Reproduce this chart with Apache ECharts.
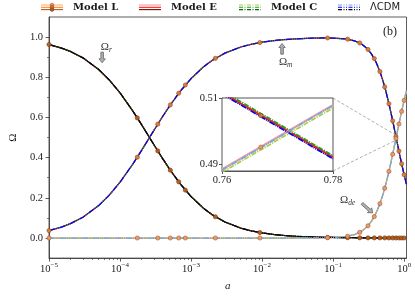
<!DOCTYPE html>
<html><head><meta charset="utf-8">
<script src="https://cdn.jsdelivr.net/npm/echarts@6/dist/echarts.min.js"></script>
<style>html,body{margin:0;padding:0;background:#fff}#c{width:415px;height:297px}</style>
</head><body><div id="c"></div>
<script>
// ---------- data ----------
const aGrid = [1e-5, 1.5e-5, 2e-5, 3e-5, 5e-5, 7e-5, 1e-4, 1.5e-4, 2e-4, 3e-4, 4e-4, 5e-4, 7e-4, 1e-3, 1.5e-3, 2e-3, 3e-3, 5e-3, 7e-3, 1e-2, 1.5e-2, 2e-2, 3e-2, 5e-2, 7e-2, 0.1, 0.15, 0.2, 0.25, 0.3, 0.35, 0.4, 0.45, 0.5, 0.55, 0.6, 0.65, 0.7, 0.76, 0.78, 0.8, 0.85, 0.9, 0.95, 1.0, 1.05, 1.08];
const omegaR = [0.963, 0.9455, 0.9286, 0.8966, 0.8387, 0.7879, 0.7222, 0.6341, 0.5652, 0.4643, 0.3939, 0.3421, 0.2708, 0.2063, 0.1477, 0.1150, 0.0798, 0.0494, 0.0358, 0.0253, 0.0170, 0.0128, 0.0086, 0.0052, 0.0037, 0.0026, 0.0017, 0.0013, 0.0010, 0.0008, 0.0007, 0.0006, 0.0005, 0.0004, 0.0003, 0.0003, 0.0003, 0.0002, 0.0002, 0.0002, 0.0002, 0.0001, 0.0001, 0.0001, 0.0001, 0.0001, 0.0001];
const omegaM = [0.0370, 0.0545, 0.0714, 0.1034, 0.1613, 0.2121, 0.2778, 0.3659, 0.4348, 0.5357, 0.6061, 0.6579, 0.7292, 0.7937, 0.8523, 0.8850, 0.9202, 0.9506, 0.9642, 0.9747, 0.9830, 0.9872, 0.9913, 0.9946, 0.9956, 0.9952, 0.9910, 0.9816, 0.9662, 0.9438, 0.9141, 0.8773, 0.8342, 0.7860, 0.7341, 0.6802, 0.6259, 0.5727, 0.5115, 0.4921, 0.4731, 0.4281, 0.3868, 0.3491, 0.3150, 0.2843, 0.2674];
const omegaDE = [0, 0, 0, 0, 0, 0, 0, 0, 0, 0, 0, 0, 0, 0, 0, 0, 0, 0, 0, 0, 0, 0, 0.0001, 0.0003, 0.0007, 0.0022, 0.0073, 0.0171, 0.0328, 0.0554, 0.0852, 0.1221, 0.1653, 0.2136, 0.2656, 0.3195, 0.3738, 0.4271, 0.4883, 0.5078, 0.5267, 0.5717, 0.6131, 0.6508, 0.6849, 0.7157, 0.7325];

// Model L markers
const markA  = [1e-5, 1.75e-4, 3.4e-4, 5.1e-4, 6.7e-4, 8.3e-4, 2.2e-3, 9.3e-3, 0.0836, 0.160, 0.237, 0.310, 0.380, 0.456, 0.533, 0.611, 0.690, 0.767, 0.845, 0.922, 1.0];
const markR  = [0.963, 0.5977, 0.4333, 0.3377, 0.2796, 0.2385, 0.1057, 0.0272, 0.0031, 0.0016, 0.0011, 0.0008, 0.0006, 0.0005, 0.0004, 0.0003, 0.0002, 0.0002, 0.0001, 0.0001, 0.0001];
const markM  = [0.0370, 0.4023, 0.5667, 0.6623, 0.7204, 0.7615, 0.8943, 0.9728, 0.9956, 0.9896, 0.9708, 0.9384, 0.8929, 0.8287, 0.7520, 0.6683, 0.5832, 0.5047, 0.4325, 0.3697, 0.3150];
const markDE = [0, 0, 0, 0, 0, 0, 0, 0, 0.0013, 0.0088, 0.0281, 0.0608, 0.1065, 0.1709, 0.2476, 0.3315, 0.4166, 0.4952, 0.5674, 0.6302, 0.6849];

// inset (zoom on 0.76 <= a <= 0.78)
const insetA = [0.76, 0.78];
const insetM_L = [0.5114, 0.4919];
const insetM_E = [0.5117, 0.4922];
const insetM_C = [0.5122, 0.4926];
const insetM_LCDM = [0.5112, 0.4917];
const insetDE_L = [0.4884, 0.5078];
const insetDE_E = [0.4886, 0.5080];
const insetDE_C = [0.4876, 0.5070];
const insetDE_LCDM = [0.4883, 0.5077];
const insetMarkA = [0.767];
const insetMarkM = [0.5047];
const insetMarkDE = [0.4952];

// ticks
const xMajorTicks = [1e-5, 1e-4, 1e-3, 1e-2, 1e-1, 1];
const xMinorTicks = [2e-5,3e-5,4e-5,5e-5,6e-5,7e-5,8e-5,9e-5, 2e-4,3e-4,4e-4,5e-4,6e-4,7e-4,8e-4,9e-4, 2e-3,3e-3,4e-3,5e-3,6e-3,7e-3,8e-3,9e-3, 2e-2,3e-2,4e-2,5e-2,6e-2,7e-2,8e-2,9e-2, 0.2,0.3,0.4,0.5,0.6,0.7,0.8,0.9];
const yMajorTicks = [0, 0.2, 0.4, 0.6, 0.8, 1.0];
const yMinorTicks = [0.1, 0.3, 0.5, 0.7, 0.9];
const insetXTicks = [0.76, 0.78];
const insetYTicks = [0.49, 0.51];

// ---------- styling ----------
const SERIF = 'Liberation Serif';
const TXT = '#1a1a1a';
const AX = '#333';
const models = [
  {name: 'Model L', dash: 'solid', svgDash: '', c: {r: '#b0581c', m: '#ff8a1a', de: '#ffb070'}},
  {name: 'Model E', dash: 'solid', svgDash: '', c: {r: '#8b0000', m: '#ff1a1a', de: '#ff9a9a'}},
  {name: 'Model C', dash: [5, 1.2, 1.2, 1.2], svgDash: '4,1.5,1,1.5', c: {r: '#006400', m: '#1fa01f', de: '#a6cf3c'}},
  {name: 'ΛCDM', dash: [6, 1, 1, 1, 1, 1], svgDash: '4,1.5,1,1.5,1,1.5', c: {r: '#000028', m: '#0000ff', de: '#6ea6f0'}}
];
const markerStyle = {
  r: {color: '#b8601f', borderColor: '#6b2f0a'},
  m: {color: '#e07a3a', borderColor: '#8b4513'},
  de: {color: '#eb9a66', borderColor: '#a0522d'}
};
const zip = (xs, ys) => xs.map((x, i) => [x, ys[i]]);

function legendIcon(mod, withMarker) {
  const ys = [4, 6.3, 8.6];
  const cs = [mod.c.de, mod.c.m, mod.c.r];
  let s = '<svg xmlns="http://www.w3.org/2000/svg" width="27" height="12" viewBox="0 0 27 12">';
  ys.forEach((y, i) => {
    s += '<line x1="0" y1="' + y + '" x2="22" y2="' + y + '" stroke="' + cs[i] + '" stroke-width="1.1"' +
      (mod.svgDash ? ' stroke-dasharray="' + mod.svgDash + '"' : '') + '/>';
  });
  if (withMarker) {
    const ms = [markerStyle.de, markerStyle.m, markerStyle.r];
    ys.forEach((y, i) => {
      s += '<circle cx="11" cy="' + y + '" r="1.8" fill="' + ms[i].color + '" stroke="' + ms[i].borderColor + '" stroke-width="0.6"/>';
    });
  }
  s += '</svg>';
  return 'image://data:image/svg+xml;charset=utf-8,' + encodeURIComponent(s);
}

const series = [];
models.forEach(mod => {
  [['r', omegaR], ['m', omegaM], ['de', omegaDE]].forEach(([k, arr]) => {
    series.push({
      type: 'line', name: mod.name, xAxisIndex: 0, yAxisIndex: 0,
      data: zip(aGrid, arr), symbol: 'none', smooth: false,
      lineStyle: {color: mod.c[k], width: 1.25, type: mod.dash, join: 'round'}, itemStyle: {color: mod.c[k]},
      z: 2
    });
  });
});
[['r', markR], ['m', markM], ['de', markDE]].forEach(([k, arr]) => {
  series.push({
    type: 'scatter', name: 'Model L', xAxisIndex: 0, yAxisIndex: 0,
    data: zip(markA, arr), symbol: 'circle', symbolSize: 4.2,
    itemStyle: {color: markerStyle[k].color, borderColor: markerStyle[k].borderColor, borderWidth: 0.6, opacity: 0.95},
    z: 4
  });
});
// inset series
const insetSets = {
  'Model L': [insetM_L, insetDE_L], 'Model E': [insetM_E, insetDE_E],
  'Model C': [insetM_C, insetDE_C], 'ΛCDM': [insetM_LCDM, insetDE_LCDM]
};
models.forEach(mod => {
  const [mArr, dArr] = insetSets[mod.name];
  [['m', mArr], ['de', dArr]].forEach(([k, arr]) => {
    series.push({
      type: 'line', name: mod.name, xAxisIndex: 2, yAxisIndex: 2,
      data: zip(insetA, arr), symbol: 'none',
      lineStyle: {color: mod.c[k], width: 1.7, type: mod.dash}, z: 6
    });
  });
});
[['m', insetMarkM], ['de', insetMarkDE]].forEach(([k, arr]) => {
  series.push({
    type: 'scatter', name: 'Model L', xAxisIndex: 2, yAxisIndex: 2,
    data: zip(insetMarkA, arr), symbolSize: 4.2,
    itemStyle: {color: markerStyle[k].color, borderColor: markerStyle[k].borderColor, borderWidth: 0.6, opacity: 0.9}, z: 7
  });
});

const legendLefts = [41, 139, 239, 338];
const legends = models.map((mod, i) => ({
  data: [{name: mod.name, icon: legendIcon(mod, i === 0)}],
  left: legendLefts[i], top: 1, padding: 0, itemWidth: 27, itemHeight: 12, selectedMode: false,
  textStyle: i === 3 ? {fontFamily: 'DejaVu Sans', fontSize: 10, color: TXT}
                     : {fontFamily: 'DejaVu Serif', fontWeight: 'bold', fontSize: 10, color: TXT}
}));

const supFmt = v => {
  const e = Math.round(Math.log10(v));
  return '{b|10}{s|' + (e < 0 ? '\u2212' + (-e) : String(e)) + '}';
};

const chart = echarts.init(document.getElementById('c'), null, {renderer: 'canvas'});
chart.setOption({
  animation: false,
  backgroundColor: '#fff',
  legend: legends,
  grid: [
    {left: 37, right: 8.5, top: 17, bottom: 35, show: true, borderColor: AX, borderWidth: 0.8, backgroundColor: 'transparent'},
    {left: 222, top: 98, width: 111, height: 73, show: true, borderColor: '#555', borderWidth: 1, backgroundColor: '#fff', z: 5}
  ],
  xAxis: [
    {type: 'log', logBase: 10, gridIndex: 0, min: 1e-5, max: 1.08, position: 'bottom',
     axisLine: {show: true, onZero: false, lineStyle: {color: AX, width: 0.8}},
     axisTick: {show: true, customValues: xMajorTicks, length: 3.5, lineStyle: {color: AX, width: 0.8}},
     axisLabel: {customValues: xMajorTicks, formatter: supFmt, margin: 5, color: TXT,
       rich: {b: {fontFamily: SERIF, fontSize: 10.5, color: TXT, lineHeight: 12},
              s: {fontFamily: SERIF, fontSize: 7, color: TXT, lineHeight: 7, padding: [0, 0, 7, 0]}}},
     splitLine: {show: false}, minorTick: {show: false},
     name: 'a', nameLocation: 'middle', nameGap: 22,
     nameTextStyle: {fontFamily: SERIF, fontStyle: 'italic', fontSize: 11, color: TXT}},
    {type: 'log', logBase: 10, gridIndex: 0, min: 1e-5, max: 1.08, position: 'bottom',
     axisLine: {show: false, onZero: false},
     axisTick: {show: true, customValues: xMinorTicks, length: 2, lineStyle: {color: AX, width: 0.6}},
     axisLabel: {show: false}, splitLine: {show: false}},
    {type: 'value', gridIndex: 1, min: 0.76, max: 0.78, position: 'bottom',
     axisLine: {show: true, onZero: false, lineStyle: {color: '#555', width: 1}},
     axisTick: {show: true, customValues: insetXTicks, length: 3, lineStyle: {color: '#555'}},
     axisLabel: {customValues: insetXTicks, formatter: v => v.toFixed(2), margin: 4, color: TXT, fontFamily: SERIF, fontSize: 10.5},
     splitLine: {show: false}}
  ],
  yAxis: [
    {type: 'value', gridIndex: 0, min: -0.1, max: 1.1, position: 'left',
     axisLine: {show: true, onZero: false, lineStyle: {color: AX, width: 0.8}},
     axisTick: {show: true, customValues: yMajorTicks, length: 3.5, lineStyle: {color: AX, width: 0.8}},
     axisLabel: {customValues: yMajorTicks, formatter: v => v.toFixed(1), margin: 6, color: TXT, fontFamily: SERIF, fontSize: 10.5},
     splitLine: {show: false},
     name: 'Ω', nameLocation: 'middle', nameGap: 30, nameRotate: 90,
     nameTextStyle: {fontFamily: SERIF, fontSize: 11, color: TXT}},
    {type: 'value', gridIndex: 0, min: -0.1, max: 1.1, position: 'left',
     axisLine: {show: false, onZero: false},
     axisTick: {show: true, customValues: yMinorTicks, length: 2, lineStyle: {color: AX, width: 0.6}},
     axisLabel: {show: false}, splitLine: {show: false}},
    {type: 'value', gridIndex: 1, min: 0.488, max: 0.51, position: 'left',
     axisLine: {show: true, onZero: false, lineStyle: {color: '#555', width: 1}},
     axisTick: {show: true, customValues: insetYTicks, length: 3, lineStyle: {color: '#555'}},
     axisLabel: {customValues: insetYTicks, formatter: v => v.toFixed(2), margin: 4, color: TXT, fontFamily: SERIF, fontSize: 10.5},
     splitLine: {show: false}}
  ],
  series: series
});

// ---------- annotations (anchored in data space) ----------
const P = (a, y) => chart.convertToPixel({xAxisIndex: 0, yAxisIndex: 0}, [a, y]);
const PI = (a, y) => chart.convertToPixel({xAxisIndex: 2, yAxisIndex: 2}, [a, y]);

function fatArrow(p0, p1) {
  const dx = p1[0] - p0[0], dy = p1[1] - p0[1];
  const L = Math.hypot(dx, dy), ux = dx / L, uy = dy / L, nx = -uy, ny = ux;
  const sw = 1.3, hw = 3.2, hl = 4;
  const nk = [p1[0] - ux * hl, p1[1] - uy * hl];
  return [
    [p0[0] + nx * sw, p0[1] + ny * sw], [nk[0] + nx * sw, nk[1] + ny * sw], [nk[0] + nx * hw, nk[1] + ny * hw],
    p1, [nk[0] - nx * hw, nk[1] - ny * hw], [nk[0] - nx * sw, nk[1] - ny * sw], [p0[0] - nx * sw, p0[1] - ny * sw]
  ];
}
const arrowStyle = {fill: '#b0b0b0', stroke: '#555', lineWidth: 0.7};
const labRich = {
  o: {fontFamily: SERIF, fontSize: 11, fill: '#333', color: '#333'},
  s: {fontFamily: SERIF, fontSize: 7.5, fontStyle: 'italic', fill: '#333', color: '#333', padding: [5, 0, 0, 0]}
};
function label(p, sub) {
  return {type: 'text', x: p[0], y: p[1], z: 20,
    style: {text: '{o|Ω}{s|' + sub + '}', rich: labRich, align: 'center', verticalAlign: 'middle', textAlign: 'center', textVerticalAlign: 'middle'}};
}
const gfx = [];
gfx.push(label(P(6.4e-5, 0.948), 'r'));
gfx.push({type: 'polygon', z: 20, shape: {points: fatArrow(P(5.6e-5, 0.925), P(5.6e-5, 0.872))}, style: arrowStyle});
gfx.push(label(P(0.0215, 0.875), 'm'));
gfx.push({type: 'polygon', z: 20, shape: {points: fatArrow(P(0.0191, 0.915), P(0.0191, 0.968))}, style: arrowStyle});
gfx.push(label(P(0.16, 0.188), 'de'));
gfx.push({type: 'polygon', z: 20, shape: {points: fatArrow(P(0.255, 0.172), P(0.36, 0.125))}, style: arrowStyle});
const pb = P(0.63, 1.027);
gfx.push({type: 'text', x: pb[0], y: pb[1], z: 20,
  style: {text: '(b)', fontFamily: SERIF, fontSize: 12, fill: TXT, align: 'center', verticalAlign: 'middle', textAlign: 'center', textVerticalAlign: 'middle'}});
// mark_inset connectors
const rTR = P(0.78, 0.51), rBR = P(0.78, 0.488), rTL = P(0.76, 0.51);
const iTR = PI(0.78, 0.51), iBR = PI(0.78, 0.488);
const dashed = {stroke: '#999', lineWidth: 0.8, lineDash: [3, 2]};
gfx.push({type: 'line', z: 3, shape: {x1: iTR[0], y1: iTR[1], x2: rTR[0], y2: rTR[1]}, style: dashed});
gfx.push({type: 'line', z: 3, shape: {x1: iBR[0], y1: iBR[1], x2: rBR[0], y2: rBR[1]}, style: dashed});
gfx.push({type: 'rect', z: 3, shape: {x: rTL[0], y: rTR[1], width: rTR[0] - rTL[0], height: rBR[1] - rTR[1]}, style: {fill: 'none', stroke: '#999', lineWidth: 0.6}});
chart.setOption({graphic: gfx});
</script>
</body></html>
